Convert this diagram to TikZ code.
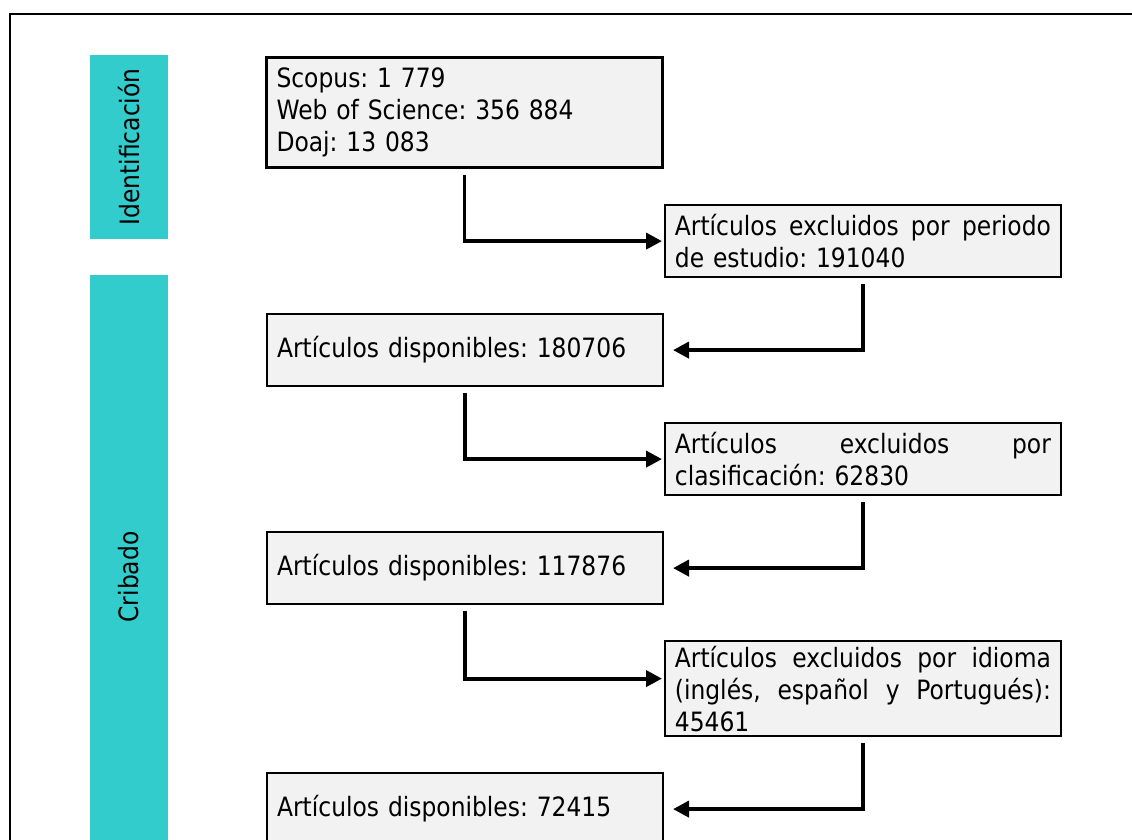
\documentclass[tikz,border=0pt]{standalone}
\usepackage{fontspec}
\setmainfont{DejaVu Sans}[FakeStretch=0.88]
\usetikzlibrary{positioning,arrows.meta}

\definecolor{phaseteal}{HTML}{33CCCC}
\definecolor{boxgray}{HTML}{F2F2F2}
\newcommand{\fullline}[1]{{\spaceskip=.3em plus 1fil\relax\makebox[188pt][s]{#1}}}

\tikzset{
  stagebox/.style={draw, line width=0.9pt, fill=boxgray, text width=188pt,
    inner xsep=5pt, inner ysep=0pt, align=left, minimum height=36pt},
  phase/.style={fill=phaseteal, rotate=90, minimum height=39pt, inner sep=0pt},
  flow/.style={line width=1.9pt, -{Triangle[length=8pt,width=8pt]}, shorten <=3pt},
}

\begin{document}
\frenchspacing
\begin{tikzpicture}[x=0.5pt, y=-0.5pt, font=\fontsize{13.3pt}{16pt}\selectfont,
    node distance=17.6pt and 0pt]
  \useasboundingbox (0,0) rectangle (1132,840);
  \clip (0,0) rectangle (1132,840);
  % Frame
  \draw[line width=1.2pt] (10,900) -- (10,14) -- (1140,14);
  % Phases
  \node[phase, minimum width=92pt] (ident) at (129,147) {Identificación}; %
  \node[phase, minimum width=302pt] (crib) at (129,577) {Cribado}; %
  % Nodes
  \node[stagebox, line width=1.5pt, minimum height=55pt, anchor=north west]
    (src) at (265,56) {Scopus: 1 779\\ Web of Science: 356 884\\ Doaj: 13 083}; %
  \node[stagebox, below right=of src] (excl1)
    {\fullline{Artículos excluidos por periodo}\\ de estudio: 191040}; %
  \node[stagebox, below left=of excl1] (avail1) {Artículos disponibles: 180706}; %
  \node[stagebox, below right=of avail1] (excl2)
    {\fullline{Artículos excluidos por}\\ clasificación: 62830}; %
  \node[stagebox, below left=of excl2] (avail2) {Artículos disponibles: 117876}; %
  \node[stagebox, below right=of avail2, minimum height=47.5pt] (excl3)
    {\fullline{Artículos excluidos por idioma}\\
     \fullline{(inglés, español y Portugués):}\\ 45461}; %
  \node[stagebox, below left=of excl3] (avail3) {Artículos disponibles: 72415}; %
  % Edges
  \draw[flow, shorten >=1pt] (src) |- (excl1); %
  \draw[flow, shorten >=4.5pt] (excl1) |- (avail1); %
  \draw[flow, shorten >=1pt] (avail1) |- (excl2); %
  \draw[flow, shorten >=4.5pt] (excl2) |- (avail2); %
  \draw[flow, shorten >=1pt] (avail2) |- ([yshift=5pt]excl3.west); %
  \draw[flow, shorten >=4.5pt] (excl3) |- (avail3); %
\end{tikzpicture}
\end{document}
